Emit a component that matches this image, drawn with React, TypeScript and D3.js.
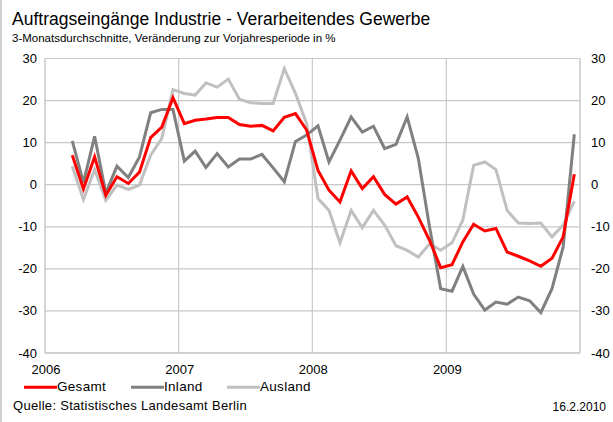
import React from "react";
import * as d3 from "d3";

// 3-Monatsdurchschnitte, Mrz 2006 bis Dez 2009
const startYear = 2006;
const startMonth = 2; // März
const gesamt = [
  7.0, -1.0, 6.6, -2.5, 1.9, 0.3, 3.0, 11.2, 13.7, 20.7,
  14.5, 15.3, 15.6, 16.0, 16.0, 14.3, 13.9, 14.1, 12.8, 16.0, 16.9, 13.0,
  3.4, -1.3, -4.1, 3.3, -0.9, 1.9, -2.3, -4.6, -2.9, -7.7, -13.2, -19.7,
  -19.0, -13.6, -9.4, -11.0, -10.4, -16.0, -17.0, -18.1, -19.4, -17.5, -12.4, 2.5,
];
const inland = [
  10.4, 0.5, 11.5, -2.0, 4.4, 1.7, 6.6, 17.1, 17.9, 17.9,
  5.6, 8.0, 4.1, 7.4, 4.2, 6.1, 6.1, 7.2, 4.0, 0.7, 10.3, 11.8,
  14.0, 5.4, 10.6, 16.1, 12.5, 13.9, 8.6, 9.6, 16.1, 6.2, -10.0, -24.7,
  -25.3, -19.4, -26.0, -29.8, -27.9, -28.4, -26.7, -27.6, -30.4, -24.7, -14.8, 12.0,
];
const ausland = [
  4.4, -3.5, 3.6, -3.7, -0.1, -1.1, -0.1, 7.0, 11.0, 22.6,
  21.7, 21.3, 24.2, 23.2, 25.1, 20.3, 19.5, 19.3, 19.3, 27.6, 21.7, 14.5,
  -3.3, -6.1, -13.8, -6.1, -10.2, -6.1, -9.6, -14.5, -15.6, -17.2, -14.1, -15.6,
  -13.8, -8.4, 4.6, 5.4, 3.6, -6.1, -9.1, -9.2, -9.1, -12.4, -9.6, -3.9,
];
const yTicks = [30, 20, 10, 0, -10, -20, -30, -40];
const years = ["2006", "2007", "2008", "2009"];

const series = [
  { name: "Gesamt", values: gesamt, color: "#ff0000" },
  { name: "Inland", values: inland, color: "#808080" },
  { name: "Ausland", values: ausland, color: "#c0c0c0" },
];

const W = 613;
const H = 422;
const left = 45;
const right = 580;
const top = 58.5;
const bottom = 353;
const font = "'Liberation Sans', Arial, sans-serif";

export default function App() {
  const x = d3.scaleTime()
    .domain([new Date(2006, 0, 1), new Date(2010, 0, 1)])
    .range([left, right]);
  const y = d3.scaleLinear().domain([-40, 30]).range([bottom, top]);

  // Punkte in der Monatsmitte
  const xPos = (i: number) => {
    const m = startMonth + i;
    const a = x(new Date(startYear, m, 1));
    const b = x(new Date(startYear, m + 1, 1));
    return (a + b) / 2;
  };
  const line = d3.line<number>()
    .x((_, i) => xPos(i))
    .y((d) => y(d));

  const yearLines = years.map((yr) => x(new Date(+yr, 0, 1)));
  const grid = "#c8c8c8";

  return (
    <svg width={W} height={H} style={{ position: "absolute", left: 0, top: 0, background: "#fff" }} fontFamily={font}>
      <line x1={1} x2={1} y1={0} y2={H} stroke="#d0d0d0" strokeWidth={2} />
      <text x={12} y={25} fontSize={17.5} fill="#000">Auftragseingänge Industrie - Verarbeitendes Gewerbe</text>
      <text x={12} y={42} fontSize={11.5} fill="#000">3-Monatsdurchschnitte, Veränderung zur Vorjahresperiode in %</text>

      {yTicks.map((t) => (
        <g key={t}>
          <line x1={left} x2={right} y1={y(t)} y2={y(t)} stroke={grid} strokeWidth={1.2} />
          <text x={37} y={y(t) + 4.5} fontSize={13} textAnchor="end">{t}</text>
          <text x={591} y={y(t) + 4.5} fontSize={13}>{t}</text>
        </g>
      ))}
      {yearLines.map((xx, i) => (
        <g key={years[i]}>
          {i > 0 && <line x1={xx} x2={xx} y1={top} y2={bottom} stroke={grid} strokeWidth={1.2} />}
          <text x={xx + 1} y={374} fontSize={13} textAnchor="middle">{years[i]}</text>
        </g>
      ))}
      <line x1={left} x2={left} y1={top} y2={bottom} stroke={grid} strokeWidth={1.5} />
      <line x1={right} x2={right} y1={top} y2={bottom} stroke={grid} strokeWidth={1.5} />
      <line x1={left} x2={right} y1={bottom} y2={bottom} stroke={grid} strokeWidth={1.5} />

      {[...series].reverse().map((s) => (
        <path key={s.name} d={line(s.values) || ""} fill="none" stroke={s.color} strokeWidth={3} strokeLinejoin="miter" />
      ))}

      {series.map((s, i) => {
        const lx = [24, 131, 227][i];
        return (
          <g key={s.name}>
            <line x1={lx} x2={lx + 33} y1={387.3} y2={387.3} stroke={s.color} strokeWidth={3} />
            <text x={lx + 33} y={391} fontSize={13.5} letterSpacing={0.3}>{s.name}</text>
          </g>
        );
      })}

      <text x={13} y={409.5} fontSize={13} letterSpacing={0.3}>Quelle: Statistisches Landesamt Berlin</text>
      <text x={606} y={411} fontSize={12} textAnchor="end">16.2.2010</text>
    </svg>
  );
}
